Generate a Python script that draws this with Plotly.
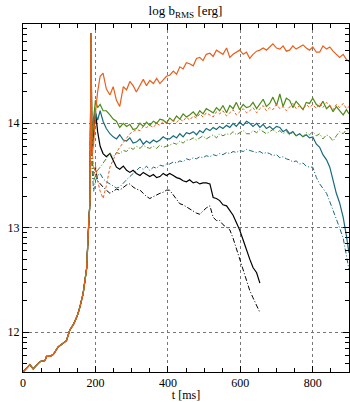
import numpy as np
import plotly.graph_objects as go

# growth phase (shared by all models)
T_GROWTH = [0, 10, 19, 28, 40, 47, 61, 65, 75, 84, 97, 107, 120, 129, 140, 150, 157, 166, 176, 180, 185, 186, 187, 188, 189]
V_GROWTH = [11.62, 11.66, 11.69, 11.65, 11.70, 11.72, 11.73, 11.77, 11.77, 11.79, 11.86, 11.89, 11.92, 12.02, 12.08,
            12.16, 12.24, 12.37, 12.62, 12.94, 13.26, 13.8, 14.4, 14.86, 14.3]

T_LATE = [190, 195, 200, 206, 213, 221, 230, 240, 249, 258, 267, 277, 286, 295, 304, 313, 323, 332, 341, 350,
          360, 369, 378, 387, 396, 405, 415, 424, 433, 442, 451, 460, 470, 479, 488, 497, 506, 516, 525, 534,
          543, 552, 562, 571, 580, 589, 598, 608, 617, 626, 635, 645, 654, 663, 672, 681, 690, 700, 709, 718,
          727, 736, 745, 754, 764, 773, 782, 791, 800, 810, 819, 828, 838, 847, 856, 865, 874, 884, 893, 900]

ORANGE_SOLID = [13.70, 13.80, 14.10, 14.30, 14.45, 14.48, 14.33, 14.27, 14.35, 14.22,
                14.16, 14.35, 14.32, 14.40, 14.36, 14.30, 14.37, 14.42, 14.36, 14.41,
                14.38, 14.43, 14.38, 14.42, 14.45, 14.46, 14.50, 14.47, 14.54, 14.52,
                14.58, 14.57, 14.55, 14.62, 14.63, 14.60, 14.66, 14.67, 14.64, 14.70,
                14.68, 14.66, 14.72, 14.63, 14.66, 14.68, 14.70, 14.66, 14.68, 14.62,
                14.66, 14.69, 14.70, 14.72, 14.70, 14.73, 14.76, 14.72, 14.71, 14.74,
                14.69, 14.70, 14.74, 14.71, 14.73, 14.75, 14.72, 14.70, 14.73, 14.68,
                14.68, 14.74, 14.71, 14.73, 14.69, 14.66, 14.63, 14.66, 14.61, 14.59]
ORANGE_DASH = [13.90, 13.50, 13.60, 13.45, 13.35, 13.28, 13.40, 13.58, 13.65, 13.72,
               13.77, 13.82, 13.86, 13.90, 13.92, 13.94, 13.93, 13.97, 13.96, 13.98,
               13.96, 14.00, 13.98, 14.02, 14.01, 13.99, 14.03, 14.01, 14.04, 14.02,
               14.06, 14.03, 14.07, 14.05, 14.09, 14.06, 14.10, 14.08, 14.06, 14.11,
               14.09, 14.12, 14.07, 14.10, 14.13, 14.08, 14.11, 14.14, 14.10, 14.12,
               14.15, 14.10, 14.14, 14.17, 14.12, 14.15, 14.13, 14.18, 14.14, 14.16,
               14.12, 14.16, 14.19, 14.14, 14.17, 14.13, 14.18, 14.15, 14.18, 14.14,
               14.19, 14.15, 14.20, 14.17, 14.13, 14.18, 14.15, 14.19, 14.14, 14.16]
GREEN_SOLID = [13.80, 14.05, 14.22, 14.15, 14.18, 14.12, 14.12, 14.08, 14.04, 14.02,
               13.96, 14.00, 13.97, 13.99, 13.94, 13.95, 14.00, 13.97, 14.01, 13.98,
               14.02, 14.00, 14.04, 14.03, 14.00, 14.05, 14.02, 14.07, 14.04, 14.09,
               14.06, 14.08, 14.11, 14.07, 14.12, 14.09, 14.14, 14.12, 14.10, 14.15,
               14.12, 14.17, 14.10, 14.17, 14.14, 14.20, 14.13, 14.18, 14.15, 14.16,
               14.20, 14.14, 14.19, 14.23, 14.16, 14.19, 14.25, 14.17, 14.28, 14.16,
               14.24, 14.22, 14.15, 14.21, 14.17, 14.13, 14.20, 14.19, 14.24, 14.18,
               14.16, 14.21, 14.14, 14.17, 14.11, 14.16, 14.12, 14.08, 14.13, 14.09]
TEAL_SOLID = [13.90, 14.05, 14.10, 14.03, 14.12, 14.02, 13.95, 13.90, 13.87, 13.85,
              13.89, 13.84, 13.83, 13.86, 13.81, 13.82, 13.85, 13.80, 13.83, 13.81,
              13.84, 13.82, 13.84, 13.87, 13.85, 13.85, 13.88, 13.86, 13.90, 13.87,
              13.91, 13.90, 13.92, 13.89, 13.93, 13.91, 13.95, 13.93, 13.96, 13.94,
              13.97, 13.95, 13.98, 13.96, 14.00, 13.97, 14.01, 13.98, 14.02, 14.00,
              13.97, 14.00, 13.96, 13.99, 13.95, 13.97, 13.94, 13.97, 13.96, 13.92,
              13.94, 13.90, 13.92, 13.88, 13.90, 13.87, 13.89, 13.86, 13.87, 13.80,
              13.77, 13.70, 13.65, 13.58, 13.46, 13.33, 13.24, 13.10, 12.92, 12.76]
GREEN_DASHDOT = [13.70, 13.45, 13.50, 13.55, 13.58, 13.62, 13.66, 13.71, 13.68, 13.72,
                 13.71, 13.74, 13.73, 13.77, 13.75, 13.78, 13.76, 13.79, 13.77, 13.76,
                 13.78, 13.76, 13.79, 13.77, 13.78, 13.79, 13.81, 13.80, 13.83, 13.81,
                 13.84, 13.84, 13.86, 13.84, 13.86, 13.88, 13.85, 13.87, 13.89, 13.86,
                 13.90, 13.88, 13.90, 13.89, 13.92, 13.89, 13.91, 13.93, 13.90, 13.90,
                 13.93, 13.91, 13.94, 13.92, 13.90, 13.92, 13.94, 13.91, 13.93, 13.90,
                 13.92, 13.89, 13.91, 13.88, 13.90, 13.87, 13.91, 13.89, 13.92, 13.88,
                 13.90, 13.85, 13.89, 13.87, 13.83, 13.88, 13.92, 13.90, 13.94, 13.93]
TEAL_DASHDOT = [13.60, 13.35, 13.45, 13.50, 13.52, 13.47, 13.44, 13.42, 13.40, 13.38,
                13.39, 13.43, 13.46, 13.49, 13.52, 13.55, 13.58, 13.56, 13.59, 13.55,
                13.58, 13.57, 13.60, 13.59, 13.61, 13.61, 13.63, 13.62, 13.64, 13.63,
                13.66, 13.65, 13.67, 13.66, 13.68, 13.67, 13.69, 13.68, 13.70, 13.69,
                13.71, 13.70, 13.72, 13.71, 13.73, 13.72, 13.74, 13.73, 13.75, 13.74,
                13.73, 13.72, 13.73, 13.71, 13.72, 13.71, 13.69, 13.70, 13.67, 13.68,
                13.66, 13.65, 13.63, 13.64, 13.61, 13.62, 13.59, 13.58, 13.58, 13.48,
                13.42, 13.38, 13.33, 13.25, 13.17, 13.08, 13.00, 12.90, 12.72, 12.60]
BLACK_SOLID = [13.70, 13.90, 14.12, 13.92, 13.78, 13.71, 13.68, 13.71, 13.65, 13.58,
               13.56, 13.59, 13.55, 13.53, 13.55, 13.52, 13.50, 13.53, 13.51, 13.49,
               13.51, 13.48, 13.49, 13.52, 13.50, 13.52, 13.50, 13.48, 13.47, 13.45,
               13.44, 13.46, 13.43, 13.44, 13.42, 13.43, 13.43, 13.42, 13.29, 13.28,
               13.26, 13.22, 13.21, 13.17, 13.12, 13.05, 12.98, 12.88, 12.78, 12.70,
               12.62, 12.57, 12.47]
BLACK_DASHDOT = [13.70, 13.50, 13.58, 13.45, 13.42, 13.39, 13.36, 13.33, 13.35, 13.37,
                 13.36, 13.39, 13.41, 13.42, 13.39, 13.37, 13.36, 13.33, 13.30, 13.28,
                 13.30, 13.32, 13.33, 13.34, 13.36, 13.36, 13.31, 13.27, 13.23, 13.22,
                 13.20, 13.18, 13.16, 13.14, 13.13, 13.16, 13.19, 13.21, 13.10, 13.07,
                 13.07, 13.03, 13.00, 12.98, 12.90, 12.80, 12.69, 12.58, 12.49, 12.40,
                 12.33, 12.25, 12.19]

Y_TICKS = [12, 13, 14]
X_TICKS = [0, 200, 400, 600, 800]

ORANGE = "#e8601c"
GREEN = "#4e8a16"
TEAL = "#176a7c"
BLACK = "#000000"

DASHDOT = "5px,2px,1px,2px"
series = [
    (BLACK_DASHDOT, BLACK, DASHDOT, 1.0),
    (BLACK_SOLID, BLACK, "solid", 1.2),
    (TEAL_DASHDOT, TEAL, DASHDOT, 1.0),
    (TEAL_SOLID, TEAL, "solid", 1.2),
    (GREEN_DASHDOT, GREEN, DASHDOT, 1.0),
    (GREEN_SOLID, GREEN, "solid", 1.2),
    (ORANGE_DASH, ORANGE, "3px,2px", 1.0),
    (ORANGE_SOLID, ORANGE, "solid", 1.2),
]

fig = go.Figure()
for vals, col, dash, w in series:
    t = T_GROWTH + T_LATE[:len(vals)]
    v = V_GROWTH + vals
    fig.add_trace(go.Scatter(x=t, y=10 ** np.array(v), mode="lines",
                             line=dict(color=col, dash=dash, width=w), showlegend=False))

font = "Liberation Serif, Times New Roman, serif"
fig.update_layout(
    width=350, height=402,
    margin=dict(l=23, r=1, t=24, b=30),
    plot_bgcolor="white", paper_bgcolor="white",
    font=dict(family=font, size=12, color="black"),
    title=dict(text="log b<sub>RMS</sub> [erg]", x=0.53, xanchor="center", y=0.985, yanchor="top",
               font=dict(family=font, size=13)),
)
fig.update_xaxes(
    range=[0, 900], tickvals=X_TICKS, ticktext=[str(x) for x in X_TICKS],
    ticks="inside", ticklen=6, tickcolor="black", mirror="allticks",
    showline=True, linecolor="black", linewidth=1,
    showgrid=True, gridcolor="#777777", griddash="dot", gridwidth=1,
    minor=dict(ticks="inside", ticklen=4, dtick=50, tick0=0, tickcolor="black", showgrid=False),
    title=dict(text="t [ms]", standoff=0, font=dict(size=12)),
    zeroline=False, tickfont=dict(size=12), automargin=False,
)
fig.update_yaxes(
    type="log", range=[11.62, 14.95],
    tickvals=[10 ** k for k in Y_TICKS], ticktext=[str(k) for k in Y_TICKS],
    ticks="inside", ticklen=6, tickcolor="black", mirror="allticks",
    showline=True, linecolor="black", linewidth=1,
    showgrid=True, gridcolor="#777777", griddash="dot", gridwidth=1,
    minor=dict(ticks="inside", ticklen=4, dtick="D1", tickcolor="black", showgrid=False),
    zeroline=False, tickfont=dict(size=12), automargin=False,
)
fig.write_html("out.html", config={"displayModeBar": False},
               post_script="document.body.style.margin='0';document.body.style.overflow='hidden';")
